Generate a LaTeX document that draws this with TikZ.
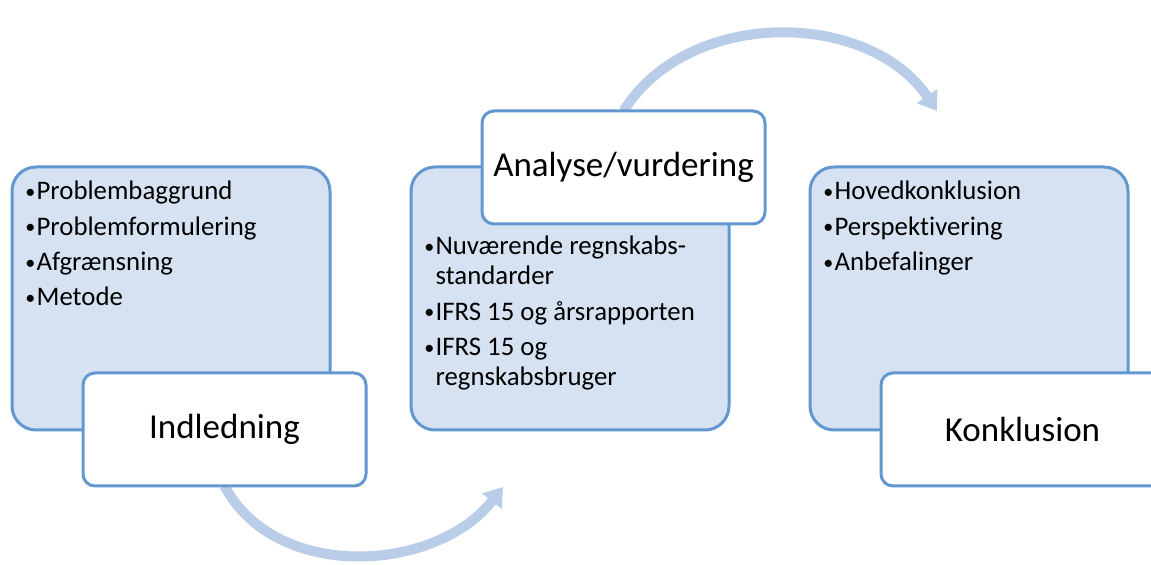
\documentclass[tikz,border=0pt]{standalone}
\usepackage{fontspec}
\setmainfont{Carlito}[Ligatures=NoCommon]
\usetikzlibrary{arrows.meta}

\definecolor{boxfill}{RGB}{214,226,242}
\definecolor{boxline}{RGB}{99,151,208}
\definecolor{flowblue}{RGB}{185,205,232}

% small bullet with its own gap
\newcommand{\bul}{\makebox[5.6pt][l]{\raisebox{0.1ex}{\scalebox{0.75}{•}}}}
\newcommand{\indt}{\hspace*{5.6pt}}

\tikzset{
  detail/.style={draw=boxline, line width=1.5pt, fill=boxfill, rectangle, rounded corners=12pt,
    minimum width=159pt, minimum height=131.5pt, inner sep=0pt},
  stage/.style={draw=boxline, line width=1.5pt, fill=white, rectangle, rounded corners=6pt,
    minimum width=141.5pt, minimum height=56.5pt, font=\fontsize{17.5}{20}\selectfont},
  items/.style={align=left, anchor=north west, inner sep=0pt, font=\fontsize{13.4}{15}\selectfont},
  flow/.style={draw=flowblue, line width=5pt, -{Triangle[length=9pt,width=12pt]}}
}

\begin{document}
\begin{tikzpicture}[x=0.5pt, y=0.5pt]
          \useasboundingbox (0,0) rectangle (1151,565);

          % Detail boxes (light blue)
          \node[detail] (det1) at (171, 266.5) {};
          \node[detail] (det2) at (570, 266.5) {};
          \node[detail] (det3) at (969, 266.5) {};

          % Bullet lists
          \node[items] (list1) at (25, 384) {%
            \bul Problembaggrund\\[2.6pt]
            \bul Problemformulering\\[2.6pt]
            \bul Afgrænsning\\[2.6pt]
            \bul Metode};
          \node[items] (list2) at (424, 329) {%
            \bul Nuværende regnskabs-\\
            \indt standarder\\[2.6pt]
            \bul IFRS 15 og årsrapporten\\[2.6pt]
            \bul IFRS 15 og\\
            \indt regnskabsbruger};
          \node[items] (list3) at (823, 384) {%
            \bul Hovedkonklusion\\[2.6pt]
            \bul Perspektivering\\[2.6pt]
            \bul Anbefalinger};

          % Arrow end points
          \coordinate (lowtip) at (503, 78);
          \coordinate (uptip) at (937, 454);

          % Curved arrows between the stages
          \draw[flow] (224.5, 79) to[out=-62, in=-128] (lowtip);
          \draw[flow] (623.5, 454) to[out=58, in=124] (uptip);

          % Stage boxes (white)
          \node[stage] (ind) at (224.5, 135.5) {Indledning};
          \node[stage] (ana) at (623.5, 397.5) {Analyse/vurdering};
          \node[stage] (kon) at (1022.5, 135.5) {Konklusion};
        \end{tikzpicture}
\end{document}
